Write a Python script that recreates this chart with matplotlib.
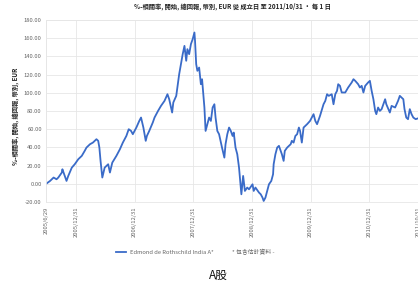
import matplotlib
matplotlib.use('Agg')
import matplotlib.pyplot as plt

plt.rcParams['font.family'] = ['Noto Sans CJK TC', 'DejaVu Sans']

# decimal years and fund value (% change)
years = [
    2005.49, 2005.56, 2005.62, 2005.67, 2005.70, 2005.76, 2005.77, 2005.80, 2005.84, 2005.87,
    2005.93, 2005.98, 2006.04, 2006.10, 2006.15, 2006.18, 2006.24, 2006.29, 2006.35, 2006.38,
    2006.40, 2006.42, 2006.45, 2006.49, 2006.55, 2006.58, 2006.62, 2006.69, 2006.75, 2006.80,
    2006.86, 2006.90, 2006.94, 2006.97, 2007.03, 2007.08, 2007.11, 2007.15, 2007.19, 2007.21,
    2007.25, 2007.31, 2007.34, 2007.40, 2007.45, 2007.51, 2007.56, 2007.59, 2007.64, 2007.66,
    2007.71, 2007.76, 2007.82, 2007.85, 2007.88, 2007.90, 2007.93, 2007.96, 2007.99, 2008.02,
    2008.03, 2008.05, 2008.07, 2008.10, 2008.13, 2008.15, 2008.19, 2008.21, 2008.24, 2008.27,
    2008.30, 2008.33, 2008.36, 2008.38, 2008.41, 2008.44, 2008.49, 2008.53, 2008.55, 2008.58,
    2008.61, 2008.64, 2008.67, 2008.69, 2008.72, 2008.75, 2008.78, 2008.81, 2008.82, 2008.85,
    2008.88, 2008.92, 2008.95, 2009.01, 2009.03, 2009.06, 2009.12, 2009.15, 2009.18, 2009.20,
    2009.23, 2009.26, 2009.29, 2009.33, 2009.36, 2009.37, 2009.40, 2009.43, 2009.46, 2009.49,
    2009.51, 2009.54, 2009.56, 2009.60, 2009.63, 2009.66, 2009.68, 2009.71, 2009.74, 2009.77,
    2009.80, 2009.82, 2009.85, 2009.88, 2009.94, 2009.99, 2010.02, 2010.05, 2010.08, 2010.11,
    2010.14, 2010.16, 2010.22, 2010.25, 2010.28, 2010.31, 2010.36, 2010.39, 2010.42, 2010.45,
    2010.47, 2010.50, 2010.53, 2010.59, 2010.64, 2010.70, 2010.73, 2010.76, 2010.81, 2010.84,
    2010.87, 2010.90, 2010.93, 2010.98, 2011.01, 2011.04, 2011.07, 2011.10, 2011.12, 2011.15,
    2011.18, 2011.21, 2011.27, 2011.29, 2011.35, 2011.38, 2011.44, 2011.49, 2011.52, 2011.58,
    2011.60, 2011.63, 2011.66, 2011.69, 2011.72, 2011.75, 2011.79, 2011.83,
]
values = [
    0.0, 3.3, 7.0, 5.1, 7.0, 12.5, 16.1, 10.6, 3.3, 8.8,
    17.9, 21.6, 27.1, 30.8, 36.3, 39.9, 43.6, 45.4, 49.1, 47.3,
    39.9, 25.3, 7.0, 17.9, 21.6, 12.5, 23.4, 30.8, 38.1, 45.4,
    52.7, 60.1, 58.2, 54.6, 61.9, 69.2, 72.9, 61.9, 47.3, 52.7,
    58.2, 67.4, 72.9, 80.2, 85.7, 91.2, 98.5, 93.0, 78.4, 89.4,
    96.7, 120.5, 142.5, 151.6, 135.2, 148.0, 142.5, 153.5, 159.0, 166.3,
    157.1, 131.5, 124.2, 127.8, 109.5, 115.0, 83.9, 58.2, 65.6, 72.9,
    69.2, 83.9, 87.5, 72.9, 58.2, 54.6, 39.9, 28.9, 43.6, 54.6,
    61.9, 58.2, 52.7, 56.4, 39.9, 32.6, 17.9, -4.0, -11.4, 8.8,
    -7.7, -4.0, -5.9, -0.4, -7.7, -4.0, -9.5, -11.4, -15.0, -18.7,
    -15.0, -7.7, -0.4, 3.3, 10.6, 21.6, 32.6, 39.9, 41.8, 36.3,
    32.6, 25.3, 36.3, 39.9, 41.8, 43.6, 47.3, 45.4, 52.7, 54.6,
    61.9, 58.2, 45.4, 61.9, 65.6, 69.2, 72.9, 76.6, 69.2, 65.6,
    71.1, 74.7, 87.5, 91.2, 98.5, 96.7, 98.5, 87.5, 98.5, 102.2,
    109.5, 107.7, 100.4, 100.4, 105.9, 111.4, 115.0, 113.2, 109.5, 105.9,
    107.7, 100.4, 107.7, 111.4, 113.2, 102.2, 93.0, 80.2, 76.6, 83.9,
    80.2, 82.1, 93.0, 87.5, 78.4, 85.7, 83.9, 91.2, 96.7, 93.0,
    82.1, 72.9, 71.1, 82.1, 76.6, 72.9, 71.1, 72.0,
]

tick_years = [2005.49, 2006.0, 2007.0, 2008.0, 2009.0, 2010.0, 2011.0, 2011.83]
tick_labels = ['2005/6/29', '2005/12/31', '2006/12/31', '2007/12/31',
               '2008/12/31', '2009/12/31', '2010/12/31', '2011/10/31']
y_ticks = [-20, 0, 20, 40, 60, 80, 100, 120, 140, 160, 180]

series_name = 'Edmond de Rothschild India A*'
title = '%-相關率, 開始, 總回報, 幣別, EUR 從 成立日 至 2011/10/31 • 每 1 日'
ylabel = '%-相關率, 開始, 總回報, 幣別, EUR'

fig = plt.figure(figsize=(4.18, 2.9), dpi=100)
ax = fig.add_axes([0.110, 0.303, 0.890, 0.628])

line, = ax.plot(years, values, color='#3a6bc8', linewidth=1.3, label=series_name)

ax.set_xlim(2005.49, 2011.83)
ax.set_ylim(-20, 180)
ax.set_yticks(y_ticks)
ax.set_yticklabels(['%.2f' % v for v in y_ticks])
ax.set_xticks(tick_years)
ax.set_xticklabels(tick_labels, rotation=90)
ax.tick_params(axis='both', labelsize=4.2, colors='#666666', length=0, pad=3)
ax.grid(True, color='#e6e6e6', linewidth=0.6)
ax.set_axisbelow(True)
for s in ax.spines.values():
    s.set_color('#e6e6e6')
    s.set_linewidth(0.6)

fig.text(0.557, 0.978, title, ha='center', va='center', fontsize=4.5,
         fontweight='bold', color='#222222')
fig.text(0.038, 0.60, ylabel, ha='center', va='center', rotation=90,
         fontsize=4.5, fontweight='bold', color='#222222')

leg = fig.legend(handles=[line], loc='center', bbox_to_anchor=(0.395, 0.131),
                 frameon=False, fontsize=4.2, handlelength=1.6, handletextpad=0.8)
for t in leg.get_texts():
    t.set_color('#666666')
fig.text(0.555, 0.131, '* 包含估計資料 -', ha='left', va='center', fontsize=4.2,
         color='#666666')

fig.text(0.522, 0.052, 'A股', ha='center', va='center', fontsize=8.5, color='#111111')

fig.savefig('out.png', dpi=100)
